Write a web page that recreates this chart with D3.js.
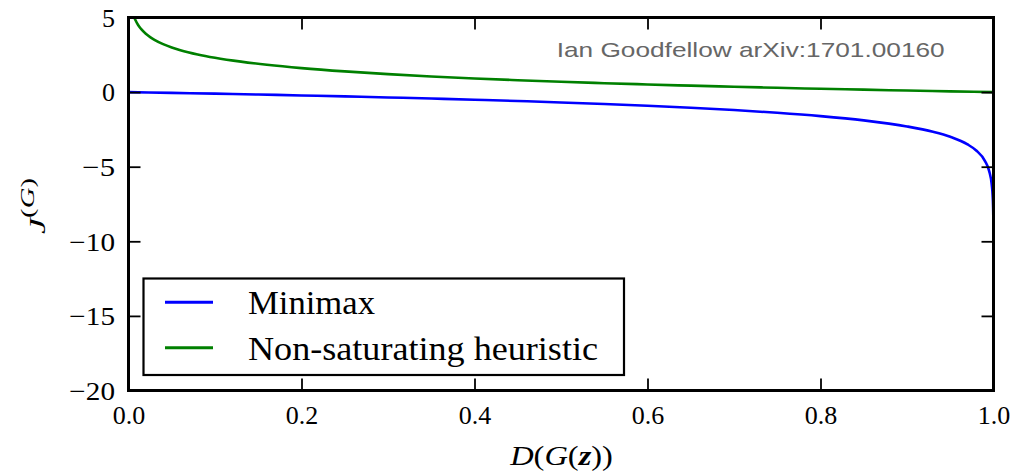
<!DOCTYPE html>
<html>
<head>
<meta charset="utf-8">
<script src="https://cdn.jsdelivr.net/npm/d3@7"></script>
<style>
  html, body { margin: 0; padding: 0; background: #fff; }
  svg { display: block; }
  .serif { font-family: "Liberation Serif", "DejaVu Serif", serif; }
</style>
</head>
<body>
<svg id="chart" width="1026" height="472"></svg>
<script>
// Generator cost J(G) as a function of the discriminator output D(G(z)).
// Minimax cost: sampled along D from 0 to just below 1.
const minimaxD = [0, 0.05, 0.1, 0.15, 0.2, 0.25, 0.3, 0.35, 0.4, 0.45, 0.5, 0.55, 0.6, 0.65,
  0.7, 0.75, 0.8, 0.85, 0.9, 0.93, 0.95, 0.97, 0.98, 0.99, 0.995, 0.998, 0.999,
  0.9995, 0.9998, 0.9999, 0.99995];
const minimaxJ = [0, -0.051, -0.105, -0.163, -0.223, -0.288, -0.357, -0.431, -0.511, -0.598,
  -0.693, -0.799, -0.916, -1.05, -1.204, -1.386, -1.609, -1.897, -2.303, -2.659, -2.996,
  -3.507, -3.912, -4.605, -5.298, -6.215, -6.908, -7.601, -8.517, -9.21, -9.90];

// Non-saturating heuristic cost.
const nonSatD = [0.0052, 0.0067, 0.008, 0.01, 0.0125, 0.015, 0.02, 0.025, 0.03, 0.04, 0.05,
  0.06, 0.08, 0.1, 0.13, 0.16, 0.2, 0.25, 0.3, 0.35, 0.4, 0.45, 0.5, 0.55, 0.6, 0.65,
  0.7, 0.75, 0.8, 0.85, 0.9, 0.95, 1.0];
const nonSatJ = [5.26, 5.0, 4.83, 4.605, 4.382, 4.2, 3.912, 3.689, 3.507, 3.219, 2.996,
  2.813, 2.526, 2.303, 2.04, 1.833, 1.609, 1.386, 1.204, 1.05, 0.916, 0.799, 0.693, 0.598,
  0.511, 0.431, 0.357, 0.288, 0.223, 0.163, 0.105, 0.051, 0];

const xTicks = [0.0, 0.2, 0.4, 0.6, 0.8, 1.0];
const xTickLabels = ["0.0", "0.2", "0.4", "0.6", "0.8", "1.0"];
const yTicks = [5, 0, -5, -10, -15, -20];
const yTickLabels = ["5", "0", "\u22125", "\u221210", "\u221215", "\u221220"];

const seriesNames = ["Minimax", "Non-saturating heuristic"];
const seriesColors = ["#0000ff", "#008000"];
const credit = "Ian Goodfellow arXiv:1701.00160";

// Layout
const plot = { left: 128.5, right: 993.5, top: 17.5, bottom: 390.5 };
const W = plot.right - plot.left, H = plot.bottom - plot.top;

const svg = d3.select("#chart");
const x = d3.scaleLinear().domain([0, 1]).range([plot.left, plot.right]);
const y = d3.scaleLinear().domain([-20, 5]).range([plot.bottom, plot.top]);

svg.append("defs").append("clipPath").attr("id", "plotClip")
  .append("rect").attr("x", plot.left).attr("y", plot.top).attr("width", W).attr("height", H);

const series = [
  { name: seriesNames[0], color: seriesColors[0], pts: minimaxD.map((d, i) => [d, minimaxJ[i]]) },
  { name: seriesNames[1], color: seriesColors[1], pts: nonSatD.map((d, i) => [d, nonSatJ[i]]) }
];

const line = d3.line().x(d => x(d[0])).y(d => y(d[1])).curve(d3.curveMonotoneX);

const lines = svg.append("g").attr("clip-path", "url(#plotClip)");
series.forEach(s => {
  lines.append("path").attr("d", line(s.pts))
    .attr("fill", "none").attr("stroke", s.color).attr("stroke-width", 2.6)
    .attr("stroke-linejoin", "round");
});

// Credit text, placed in axes-relative position
svg.append("text")
  .attr("x", plot.left + W * 0.495).attr("y", 56.5)
  .attr("font-family", "'Liberation Sans', Arial, sans-serif")
  .attr("font-size", 21).attr("fill", "#666666")
  .attr("textLength", 388).attr("lengthAdjust", "spacingAndGlyphs")
  .text(credit);

// Ticks on all four sides, pointing inward
const tickLen = 12;
function styleAxis(g) {
  g.select(".domain").remove();
  g.selectAll(".tick line").attr("stroke", "#000").attr("stroke-width", 1.8);
}
const fmtX = (d, i) => xTickLabels[i];
const fmtY = (d, i) => yTickLabels[i];

const axB = svg.append("g").attr("transform", `translate(0,${plot.bottom})`)
  .call(d3.axisBottom(x).tickValues(xTicks).tickFormat(fmtX).tickSize(-tickLen).tickPadding(0));
styleAxis(axB);
axB.selectAll(".tick text").attr("class", "serif").attr("font-family", null)
  .attr("font-size", 26).attr("fill", "#000").attr("y", 33).attr("dy", null);

const axT = svg.append("g").attr("transform", `translate(0,${plot.top})`)
  .call(d3.axisTop(x).tickValues(xTicks).tickFormat("").tickSize(-tickLen));
styleAxis(axT);

const axL = svg.append("g").attr("transform", `translate(${plot.left},0)`)
  .call(d3.axisLeft(y).tickValues(yTicks).tickFormat(fmtY).tickSize(-tickLen).tickPadding(13.5));
styleAxis(axL);
axL.selectAll(".tick text").attr("class", "serif").attr("font-family", null)
  .attr("font-size", 26).attr("fill", "#000").attr("dy", "0.34em")
  .each(function(d, i) {
    // the minus sign is set a little wider, as in TeX
    if (yTickLabels[i].startsWith("\u2212")) {
      const len = this.getComputedTextLength();
      d3.select(this).attr("textLength", len + 5).attr("lengthAdjust", "spacingAndGlyphs");
    }
  });

const axR = svg.append("g").attr("transform", `translate(${plot.right},0)`)
  .call(d3.axisRight(y).tickValues(yTicks).tickFormat("").tickSize(-tickLen));
styleAxis(axR);

// Plot frame
svg.append("rect")
  .attr("x", plot.left).attr("y", plot.top).attr("width", W).attr("height", H)
  .attr("fill", "none").attr("stroke", "#000").attr("stroke-width", 3);

// Axis labels, stretched along the text direction to their set lengths
function fitWidth(g, text, target, cx, cy, rot) {
  const bb = text.node().getBBox();
  const s = target / bb.width;
  text.attr("x", -bb.width / 2 - bb.x + 0).attr("text-anchor", "start");
  const bb2 = text.node().getBBox();
  text.attr("x", -(bb2.x + bb2.width / 2) + (+text.attr("x")));
  g.attr("transform", `translate(${cx},${cy}) rotate(${rot}) scale(${s},1)`);
}

const xlG = svg.append("g");
const xl = xlG.append("text").attr("class", "serif").attr("y", 0).attr("font-size", 28);
xl.append("tspan").attr("font-style", "italic").text("D");
xl.append("tspan").text("(");
xl.append("tspan").attr("font-style", "italic").text("G");
xl.append("tspan").text("(");
xl.append("tspan").attr("font-style", "italic").attr("font-weight", "bold").text("z");
xl.append("tspan").text("))");
fitWidth(xlG, xl, 104, 561, 465, 0);

const ylG = svg.append("g");
const yl = ylG.append("text").attr("class", "serif").attr("y", 0).attr("font-size", 24);
yl.append("tspan").attr("font-style", "italic").text("J");
yl.append("tspan").attr("font-size", 19).attr("dy", -11).text("(");
yl.append("tspan").attr("font-size", 19).attr("font-style", "italic").text("G");
yl.append("tspan").attr("font-size", 19).text(")");
fitWidth(ylG, yl, 56, 45, 206, -90);

// Legend
const legendText = [127, 350];
const lg = svg.append("g");
lg.append("rect").attr("x", 143.5).attr("y", 278.5).attr("width", 480.5).attr("height", 96.5)
  .attr("fill", "#fff").attr("stroke", "#000").attr("stroke-width", 2.2);
series.forEach((s, i) => {
  const cy = 302.3 + i * 45.4;
  lg.append("line").attr("x1", 165).attr("x2", 213).attr("y1", cy).attr("y2", cy)
    .attr("stroke", s.color).attr("stroke-width", 3);
  lg.append("text").attr("class", "serif").attr("x", 248).attr("y", cy + 12)
    .attr("font-size", 33).attr("fill", "#000")
    .attr("textLength", legendText[i]).attr("lengthAdjust", "spacingAndGlyphs")
    .text(s.name);
});
</script>
</body>
</html>
